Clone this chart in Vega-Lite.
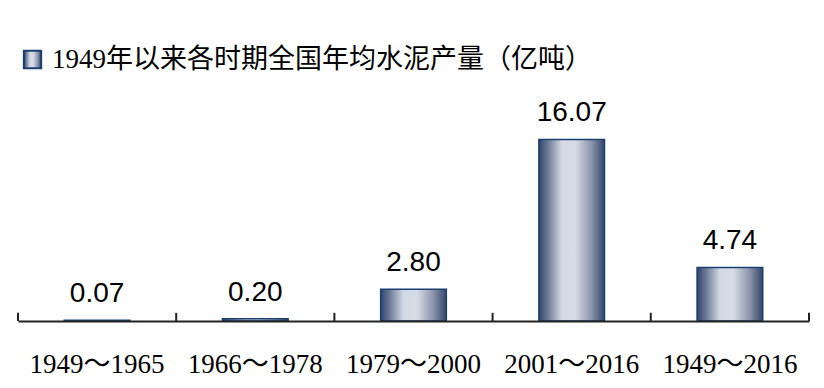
{
  "$schema": "https://vega.github.io/schema/vega-lite/v6.json",
  "width": 791,
  "height": 231,
  "autosize": {"type": "none"},
  "padding": {"left": 18, "top": 90, "right": 15, "bottom": 67},
  "background": "white",
  "config": {"view": {"stroke": null}},
  "data": {
    "values": [
      {"period": "1949～1965", "value": 0.07, "series": "1949年以来各时期全国年均水泥产量（亿吨）"},
      {"period": "1966～1978", "value": 0.20, "series": "1949年以来各时期全国年均水泥产量（亿吨）"},
      {"period": "1979～2000", "value": 2.80, "series": "1949年以来各时期全国年均水泥产量（亿吨）"},
      {"period": "2001～2016", "value": 16.07, "series": "1949年以来各时期全国年均水泥产量（亿吨）"},
      {"period": "1949～2016", "value": 4.74, "series": "1949年以来各时期全国年均水泥产量（亿吨）"}
    ]
  },
  "resolve": {"scale": {"x": "independent"}, "axis": {"x": "independent"}},
  "layer": [
    {
      "mark": {
        "type": "bar",
        "strokeWidth": 1.5,
        "fill": {
          "gradient": "linear",
          "x1": 0, "x2": 1, "y1": 0, "y2": 0,
          "stops": [
            {"offset": 0, "color": "#2e466f"},
            {"offset": 0.12, "color": "#66738f"},
            {"offset": 0.35, "color": "#d3dae5"},
            {"offset": 0.55, "color": "#d6dce6"},
            {"offset": 0.8, "color": "#8c95aa"},
            {"offset": 1, "color": "#34466c"}
          ]
        }
      },
      "encoding": {
        "x": {
          "field": "period",
          "type": "nominal",
          "sort": null,
          "scale": {"paddingInner": 0.585, "paddingOuter": 0.2925},
          "axis": {
            "title": null,
            "labelAngle": 0,
            "labelFont": "Liberation Serif, Noto Sans CJK SC",
            "labelFontSize": 27,
            "labelColor": "#000000",
            "labelPadding": 30,
            "ticks": false,
            "domainColor": "#222222",
            "domainWidth": 2,
            "grid": false,
            "zindex": 1
          }
        },
        "y": {
          "field": "value",
          "type": "quantitative",
          "scale": {"domain": [0, 20.44]},
          "axis": null
        },
        "stroke": {
          "field": "series",
          "type": "nominal",
          "scale": {"range": ["#1b3f72"]},
          "legend": {
            "title": null,
            "orient": "none",
            "legendX": 1,
            "legendY": -44,
            "padding": 0,
            "symbolType": "square",
            "symbolSize": 300,
            "symbolStrokeWidth": 2,
            "labelFont": "Liberation Serif, Noto Sans CJK SC",
            "labelFontSize": 27,
            "labelColor": "#000000",
            "labelOffset": 6,
            "labelLimit": 0,
            "encode": {
              "symbols": {
                "update": {
                  "fill": {
                    "value": {
                      "gradient": "linear",
                      "x1": 0, "x2": 1, "y1": 0, "y2": 0,
                      "stops": [
                        {"offset": 0, "color": "#2e466f"},
                        {"offset": 0.12, "color": "#66738f"},
                        {"offset": 0.35, "color": "#d3dae5"},
                        {"offset": 0.55, "color": "#d6dce6"},
                        {"offset": 0.8, "color": "#8c95aa"},
                        {"offset": 1, "color": "#34466c"}
                      ]
                    }
                  },
                  "fillOpacity": {"value": 1}
                }
              }
            }
          }
        }
      }
    },
    {
      "mark": {
        "type": "text",
        "baseline": "alphabetic",
        "dy": -18,
        "font": "Liberation Sans",
        "fontSize": 28,
        "color": "#000000"
      },
      "encoding": {
        "x": {
          "field": "period",
          "type": "nominal",
          "sort": null,
          "scale": {"paddingInner": 0.585, "paddingOuter": 0.2925},
          "axis": null
        },
        "y": {"field": "value", "type": "quantitative", "scale": {"domain": [0, 20.44]}, "axis": null},
        "text": {"field": "value", "type": "quantitative", "format": ".2f"}
      }
    },
    {
      "mark": {"type": "rule", "color": "#222222", "strokeWidth": 2},
      "encoding": {
        "x": {
          "field": "period",
          "type": "nominal",
          "sort": null,
          "bandPosition": 0,
          "scale": {"paddingInner": 0, "paddingOuter": 0},
          "axis": null
        },
        "y": {"datum": 0, "type": "quantitative", "scale": {"domain": [0, 20.44]}, "axis": null},
        "y2": {"datum": 0.72}
      }
    },
    {
      "transform": [{"filter": "datum.period === '1949～2016'"}],
      "mark": {"type": "rule", "color": "#222222", "strokeWidth": 2},
      "encoding": {
        "x": {
          "field": "period",
          "type": "nominal",
          "sort": null,
          "bandPosition": 1,
          "scale": {"domain": ["1949～1965", "1966～1978", "1979～2000", "2001～2016", "1949～2016"], "paddingInner": 0, "paddingOuter": 0},
          "axis": null
        },
        "y": {"datum": 0, "type": "quantitative", "scale": {"domain": [0, 20.44]}, "axis": null},
        "y2": {"datum": 0.72}
      }
    }
  ]
}
